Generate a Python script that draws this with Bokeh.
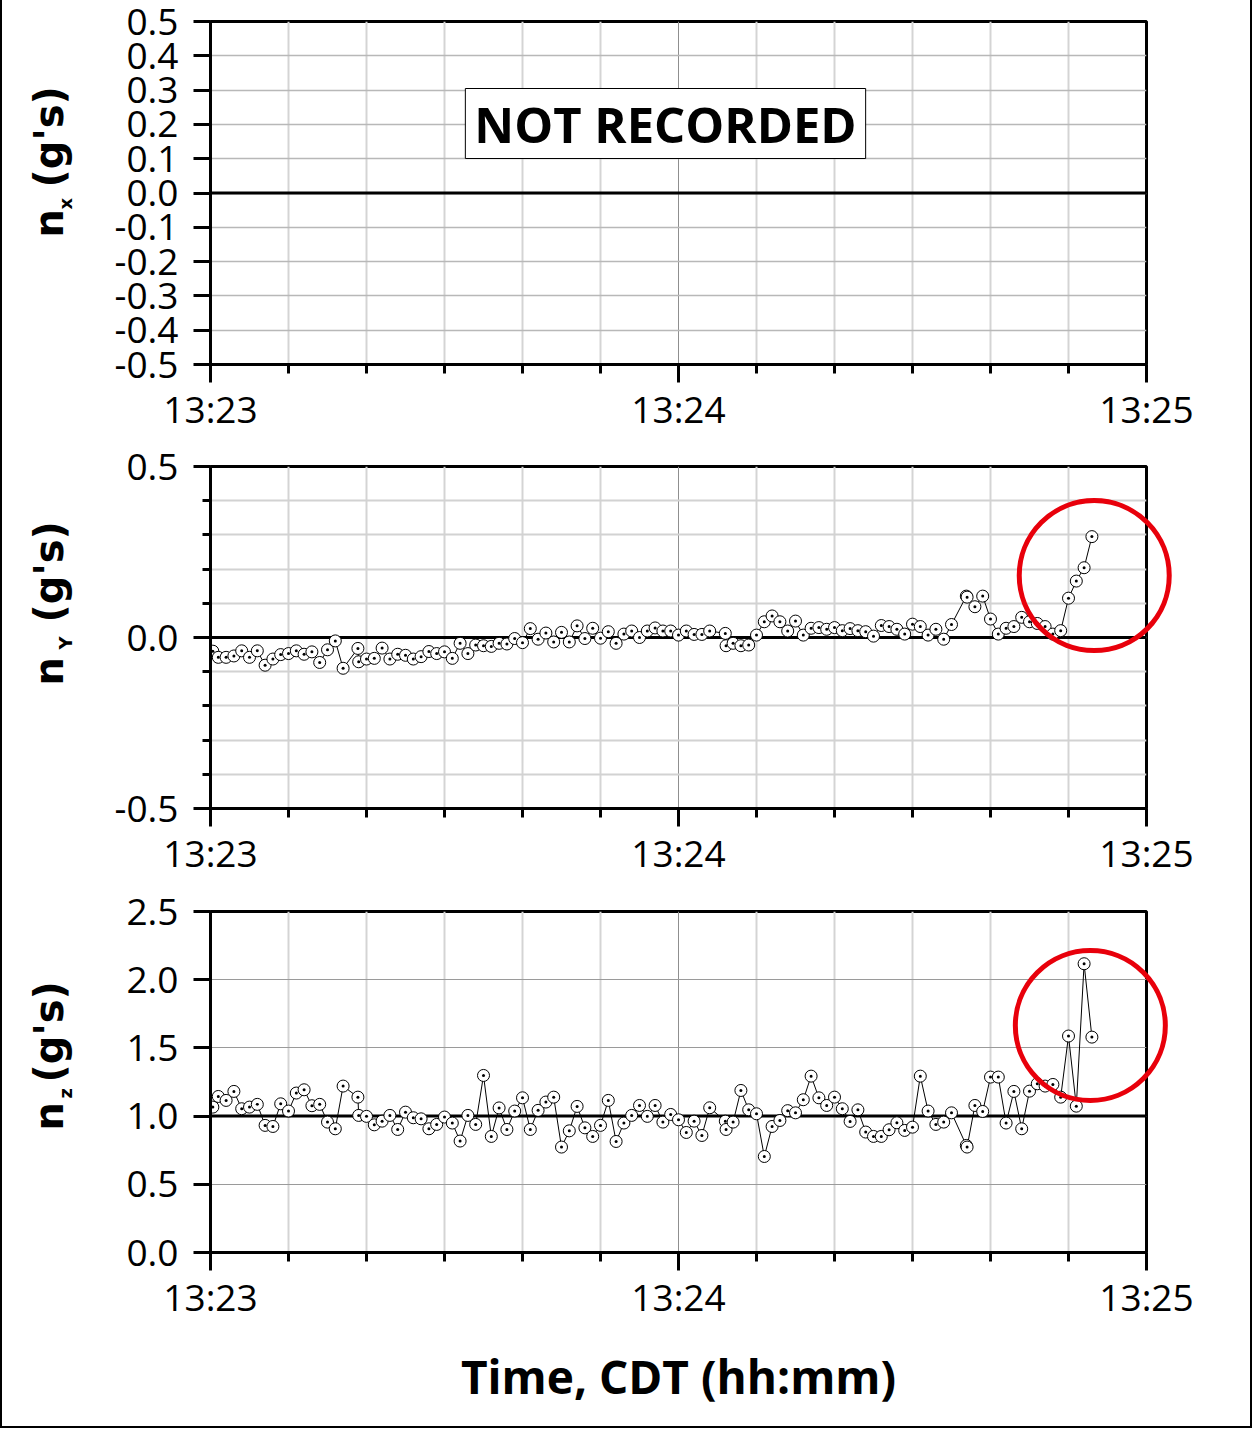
from math import pi
from bokeh.plotting import figure
from bokeh.layouts import column
from bokeh.models import FixedTicker, Span, Label, NumeralTickFormatter, Range1d
from bokeh.core.properties import value
from bokeh.embed import file_html
from bokeh.resources import INLINE

FONT = "Open Sans"
TITLE_FONT = "DejaVu Sans"

# time in seconds after 13:23:00
t_sec = [0.3, 1, 2, 3, 4, 5, 6, 7, 8, 9,
         10, 11, 12, 13, 14, 15, 16, 17, 18.9, 19,
         20, 21, 22, 23, 24, 25, 26, 27, 28, 29,
         30, 31, 32, 33, 34, 35, 36, 37, 38, 39,
         40, 41, 42, 43, 44, 45, 46, 47, 48, 49,
         50, 51, 52, 53, 54, 55, 56, 57, 58, 59,
         60, 61, 62, 63, 64, 66, 66.1, 67, 68, 69,
         70, 71, 72, 73, 74, 75, 76, 77, 78, 79,
         80, 81, 82, 83, 84, 85, 86, 87, 88, 89,
         90, 91, 92, 93, 94, 95, 96.9, 97, 98, 99,
         100, 101, 102, 103, 104, 105, 106, 107, 108, 109,
         110, 111, 112, 113]

# lateral load factor nY (g's)
ny = [-0.040, -0.058, -0.058, -0.054, -0.039, -0.058, -0.039, -0.081, -0.063, -0.050,
      -0.047, -0.039, -0.049, -0.042, -0.073, -0.036, -0.010, -0.090, -0.032, -0.071,
      -0.063, -0.061, -0.031, -0.063, -0.049, -0.052, -0.063, -0.056, -0.041, -0.047,
      -0.042, -0.061, -0.017, -0.047, -0.022, -0.024, -0.026, -0.017, -0.019, -0.003,
      -0.015, 0.026, -0.005, 0.013, -0.013, 0.015, -0.013, 0.034, -0.003, 0.027,
      -0.002, 0.017, -0.017, 0.010, 0.019, 0.000, 0.019, 0.028, 0.019, 0.019,
      0.007, 0.019, 0.009, 0.009, 0.019, 0.012, -0.024, -0.017, -0.024, -0.022,
      0.007, 0.046, 0.063, 0.046, 0.019, 0.048, 0.007, 0.027, 0.029, 0.024,
      0.029, 0.020, 0.026, 0.020, 0.017, 0.004, 0.035, 0.032, 0.024, 0.010,
      0.039, 0.032, 0.007, 0.024, -0.005, 0.038, 0.121, 0.118, 0.090, 0.121,
      0.054, 0.010, 0.027, 0.032, 0.059, 0.046, 0.041, 0.032, 0.010, 0.020,
      0.115, 0.165, 0.204, 0.295]

# normal load factor nZ (g's)
nz = [1.066, 1.144, 1.115, 1.181, 1.054, 1.066, 1.086, 0.932, 0.924, 1.090,
      1.037, 1.169, 1.193, 1.076, 1.086, 0.956, 0.907, 1.220, 1.139, 1.005,
      0.998, 0.936, 0.963, 1.005, 0.902, 1.029, 0.988, 0.980, 0.907, 0.939,
      0.993, 0.949, 0.817, 1.005, 0.939, 1.298, 0.851, 1.060, 0.902, 1.037,
      1.134, 0.902, 1.042, 1.103, 1.139, 0.773, 0.892, 1.071, 0.914, 0.851,
      0.932, 1.115, 0.814, 0.949, 1.005, 1.078, 0.998, 1.078, 0.956, 1.012,
      0.973, 0.880, 0.963, 0.858, 1.061, 0.963, 0.902, 0.956, 1.188, 1.046,
      1.017, 0.704, 0.924, 0.968, 1.040, 1.024, 1.120, 1.293, 1.134, 1.078,
      1.139, 1.054, 0.961, 1.046, 0.883, 0.851, 0.851, 0.900, 0.951, 0.895,
      0.919, 1.293, 1.037, 0.939, 0.956, 1.024, 0.785, 0.773, 1.078, 1.034,
      1.286, 1.286, 0.949, 1.181, 0.907, 1.183, 1.237, 1.220, 1.232, 1.139,
      1.587, 1.073, 2.117, 1.579]

x_major = [0, 60, 120]
x_labels = ["13:23", "13:24", "13:25"]
x_minor = [10, 20, 30, 40, 50, 70, 80, 90, 100, 110]

nx_ticks = [-0.5, -0.4, -0.3, -0.2, -0.1, 0.0, 0.1, 0.2, 0.3, 0.4, 0.5]
ny_ticks = [-0.5, 0.0, 0.5]
ny_minor = [-0.4, -0.3, -0.2, -0.1, 0.1, 0.2, 0.3, 0.4]
nz_ticks = [0.0, 0.5, 1.0, 1.5, 2.0, 2.5]

# highlighted regions (red rings)
ring_ny = (113.3, 0.181)
ring_nz = (112.8, 1.664)

FRAME_W = 936


def make_panel(yrange, yticks, yminor, ref, top, frame_h, bottom,
               hgrid_color, hgrid_width, minor_grid):
    p = figure(frame_width=FRAME_W, frame_height=frame_h,
               min_border_left=208, min_border_right=104,
               min_border_top=top, min_border_bottom=bottom,
               x_range=Range1d(0, 120), y_range=Range1d(*yrange),
               output_backend="svg", toolbar_location=None)
    p.background_fill_color = "white"
    p.border_fill_color = "white"
    p.outline_line_color = "black"
    p.outline_line_width = 3

    xa = p.xaxis[0]
    xa.ticker = FixedTicker(ticks=x_major, minor_ticks=x_minor)
    xa.major_label_overrides = {v: s for v, s in zip(x_major, x_labels)}
    xa.major_tick_out = 18
    xa.major_tick_in = 0
    xa.minor_tick_out = 9
    xa.minor_tick_in = 0
    xa.major_tick_line_width = 3
    xa.minor_tick_line_width = 3
    xa.axis_line_width = 3
    xa.major_label_text_font = FONT
    xa.major_label_text_font_size = "37px"
    xa.major_label_text_color = "black"
    xa.major_label_standoff = 0

    ya = p.yaxis[0]
    ya.ticker = FixedTicker(ticks=yticks, minor_ticks=yminor)
    ya.formatter = NumeralTickFormatter(format="0.0")
    ya.major_tick_out = 17
    ya.major_tick_in = 0
    ya.minor_tick_out = 8
    ya.minor_tick_in = 0
    ya.major_tick_line_width = 3
    ya.minor_tick_line_width = 3
    ya.axis_line_width = 3
    ya.major_label_text_font = FONT
    ya.major_label_text_font_size = "37px"
    ya.major_label_text_color = "black"
    ya.major_label_standoff = 15

    p.xgrid.grid_line_color = "#8f8f8f"
    p.xgrid.grid_line_width = 1
    p.xgrid.minor_grid_line_color = "#d4d4d4"
    p.xgrid.minor_grid_line_width = 2
    p.ygrid.grid_line_color = hgrid_color
    p.ygrid.grid_line_width = hgrid_width
    if minor_grid:
        p.ygrid.minor_grid_line_color = hgrid_color
        p.ygrid.minor_grid_line_width = hgrid_width

    p.add_layout(Span(location=ref, dimension="width", line_color="black",
                      line_width=3, level="underlay"))
    return p


def ylabel(p, sub, to_data, y_n, y_sub, y_par):
    """Rotated axis title 'n_sub (g's)'; positions given in page pixels."""
    def put(txt, px, py, size):
        x, y = to_data(px, py)
        p.text(x=[x], y=[y], text=[txt], angle=pi / 2,
               text_font=value(TITLE_FONT), text_font_style="bold",
               text_font_size=size, text_color="black",
               text_align="left", text_baseline="middle", level="overlay")
    put("n", 48, y_n, "40px")
    put(sub, 65, y_sub, "18px")
    put("(g's)", 48, y_par, "40px")


def data(p, y):
    p.line(t_sec, y, line_color="black", line_width=1)
    p.scatter(t_sec, y, marker="circle_dot", size=12, fill_color="white",
              line_color="black", line_width=1)


def ring(p, pos):
    p.scatter([pos[0]], [pos[1]], marker="circle", size=150, fill_color=None,
              line_color="#e8000b", line_width=5, level="overlay")


def page_map(frame_top, frame_h, y0, y1):
    def f(px, py):
        x = (px - 210) * 120.0 / FRAME_W
        y = y1 - (py - frame_top) * (y1 - y0) / frame_h
        return x, y
    return f


# Panel 1: nX, not recorded
p1 = make_panel((-0.5, 0.5), nx_ticks, [], 0.0, 21, 343, 76, "#b8b8b8", 1.5, False)
ylabel(p1, "x", page_map(21, 343, -0.5, 0.5), 237, 209, 187)
p1.add_layout(Label(x=455, y=241, x_units="screen", y_units="screen",
                    text="NOT RECORDED", text_font=FONT, text_font_style="bold",
                    text_font_size="49px", text_color="black",
                    text_align="center", text_baseline="middle",
                    background_fill_color="white", border_line_color="black",
                    border_line_width=1, padding=(9, 2)))

# Panel 2: nY
p2 = make_panel((-0.5, 0.5), ny_ticks, ny_minor, 0.0, 26, 342, 77, "#d2d2d2", 2, True)
ylabel(p2, "Y", page_map(466, 342, -0.5, 0.5), 685, 649, 622)
data(p2, ny)
ring(p2, ring_ny)

# Panel 3: nZ
p3 = make_panel((0.0, 2.5), nz_ticks, [], 1.0, 26, 341, 174, "#9a9a9a", 1, False)
ylabel(p3, "z", page_map(911, 341, 0.0, 2.5), 1130, 1098, 1082)
data(p3, nz)
ring(p3, ring_nz)
p3.xaxis.axis_label = "Time, CDT (hh:mm)"
p3.xaxis.axis_label_text_font = FONT
p3.xaxis.axis_label_text_font_style = "bold"
p3.xaxis.axis_label_text_font_size = "46px"
p3.xaxis.axis_label_text_color = "black"
p3.xaxis.axis_label_standoff = 20

layout = column(p1, p2, p3, spacing=0,
                styles={"border-left": "2px solid black",
                        "border-right": "2px solid black",
                        "border-bottom": "2px solid black"})

open("out.html", "w").write(file_html(layout, INLINE))
